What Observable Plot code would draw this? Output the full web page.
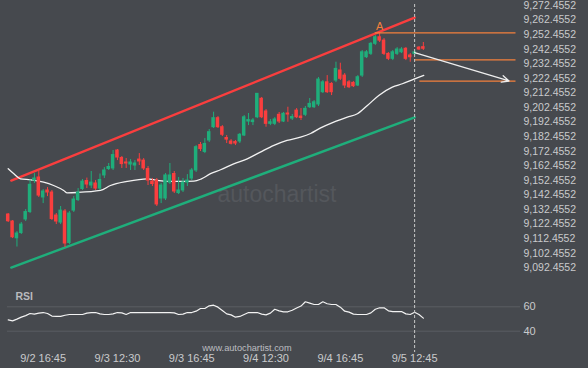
<!DOCTYPE html>
<html><head><meta charset="utf-8">
<script src="https://cdn.jsdelivr.net/npm/d3@7"></script>
<script src="https://cdn.jsdelivr.net/npm/@observablehq/plot@0.6"></script>
<style>
html,body{margin:0;padding:0;background:#46494e;}
#chart{width:588px;height:368px;overflow:hidden;background:#46494e;}
#chart svg{display:block;}
</style></head><body><div id="chart"></div>
<script>
// ---- data ----
const opens = [9129.0,9124.2,9112.7,9116.3,9125.6,9130.7,9152.3,9154.4,9140.7,9145.5,
9144.1,9128.3,9123.5,9131.1,9109.5,9131.7,9138.9,9146.5,9152.0,9148.9,
9150.3,9146.8,9155.8,9160.2,9160.6,9172.9,9167.8,9164.7,9163.3,9162.6,
9166.7,9166.0,9160.2,9151.6,9152.3,9140.0,9140.0,9150.9,9156.8,9143.7,
9145.5,9150.9,9153.7,9159.2,9176.7,9171.9,9179.8,9188.9,9195.1,9188.9,
9181.5,9179.1,9178.7,9179.1,9183.2,9192.8,9192.4,9195.7,9208.4,9199.7,
9191.2,9191.2,9197.4,9192.8,9198.3,9194.8,9200.3,9196.2,9197.4,9202.6,
9202.6,9204.5,9212.9,9219.7,9218.6,9220.9,9227.8,9224.3,9219.7,9219.3,
9217.5,9224.3,9236.9,9239.2,9246.1,9250.6,9248.3,9239.2,9235.8,9239.2,
9240.3,9242.7,9238.1,9239.2,9243.5,9243.8];
const closes = [9124.4,9113.4,9116.0,9122.1,9130.7,9149.4,9153.7,9142.0,9144.8,9144.1,
9125.9,9124.2,9131.7,9109.1,9129.7,9139.3,9144.1,9151.6,9149.6,9150.9,
9146.8,9152.7,9159.2,9161.6,9169.8,9168.1,9163.6,9164.0,9164.7,9164.0,
9165.4,9160.6,9152.3,9149.9,9135.9,9148.9,9155.8,9155.8,9144.8,9145.5,
9150.9,9152.3,9159.2,9175.2,9173.9,9177.4,9185.5,9195.1,9188.9,9183.7,
9180.4,9177.5,9177.7,9183.7,9195.7,9193.8,9193.5,9211.8,9195.7,9191.2,
9192.3,9194.2,9192.8,9198.1,9197.6,9195.9,9195.7,9195.2,9201.5,9204.9,
9206.0,9221.6,9219.7,9212.9,9212.9,9228.9,9222.1,9217.5,9216.3,9217.0,
9223.2,9240.3,9240.3,9246.1,9250.6,9248.3,9239.2,9235.8,9240.3,9242.2,
9242.2,9235.8,9236.9,9240.3,9242.2,9242.7];
const highs = [9129.7,9124.9,9117.3,9123.5,9132.4,9152.7,9157.1,9158.8,9146.1,9147.5,
9145.5,9129.7,9134.5,9132.4,9131.1,9141.3,9146.8,9153.0,9154.0,9158.5,
9152.3,9156.8,9161.2,9164.0,9172.9,9173.6,9168.8,9167.4,9166.7,9166.0,
9170.8,9167.4,9161.9,9153.7,9153.7,9150.3,9157.1,9164.0,9158.5,9154.4,
9153.7,9156.4,9160.6,9176.3,9178.4,9181.1,9187.3,9199.2,9196.2,9190.0,
9183.2,9180.4,9179.8,9184.6,9196.9,9198.3,9194.8,9212.0,9209.3,9201.0,
9194.2,9195.5,9199.0,9199.0,9202.6,9197.6,9201.7,9201.7,9203.1,9208.6,
9207.2,9223.0,9220.9,9224.3,9219.5,9233.5,9232.8,9225.7,9220.9,9220.2,
9224.3,9241.5,9241.5,9247.0,9251.8,9253.6,9249.7,9240.1,9241.5,9243.5,
9243.5,9243.5,9239.4,9241.5,9244.2,9247.0];
const lows = [9123.5,9112.5,9106.7,9115.3,9124.2,9129.7,9150.3,9140.7,9136.5,9141.3,
9124.9,9122.1,9122.1,9106.4,9108.4,9130.4,9137.9,9145.5,9146.8,9146.8,
9145.5,9145.5,9153.7,9159.2,9159.2,9166.0,9160.6,9160.6,9159.2,9159.2,
9162.6,9159.2,9148.9,9148.2,9134.5,9136.5,9138.6,9149.6,9143.4,9142.7,
9144.1,9148.2,9152.3,9157.8,9172.2,9170.8,9178.4,9188.0,9188.0,9182.5,
9177.7,9176.7,9176.3,9177.7,9182.5,9190.0,9190.0,9194.8,9194.8,9188.9,
9190.0,9190.0,9191.4,9192.1,9192.3,9193.5,9194.8,9193.5,9196.2,9201.7,
9201.7,9203.1,9212.0,9212.0,9210.6,9219.5,9220.9,9215.4,9215.4,9216.1,
9216.8,9223.0,9236.0,9238.1,9244.9,9247.0,9238.1,9234.6,9234.6,9238.1,
9239.4,9234.6,9233.5,9238.1,9241.5,9241.5];

// moving average (candle index, price)
const maIdx = [0,1.3,2.8,5.1,8.1,10.4,12.7,13.5,15.8,21.1,23.4,27.2,31.8,34.1,36.4,39.4,42.5,44.1,46.3,48.6,51.6,54.7,57.7,60.8,63.8,66.9,69.2,71.5,74.5,77.6,79.9,82.2,84.8,87.9,90.2,93,95.1];
const maVal = [9160.4,9156.9,9153.5,9152.8,9151.2,9148.9,9145.5,9143.9,9144.1,9145.5,9148.9,9151.7,9153.5,9152.4,9151.7,9151.7,9151.9,9153.3,9157.0,9159.7,9163.8,9167.2,9171.8,9176.4,9179.8,9182.1,9184.6,9188.4,9192.4,9195.8,9198.1,9203.8,9210.7,9216.4,9218.7,9222.1,9224.4];

const rsi = [49.3,48.5,49.9,51.5,52.8,54.5,54.0,54.8,55.3,54.5,
52.4,52.1,52.1,53.1,53.7,53.7,53.7,53.7,54.8,55.3,
55.3,54.2,53.7,53.7,54.2,55.3,55.0,53.7,55.3,55.3,
55.3,55.3,55.3,55.3,55.3,55.3,55.3,55.3,55.0,53.7,
54.0,55.3,55.3,56.4,58.6,58.6,60.8,61.3,59.7,57.0,
54.2,53.4,51.5,52.1,53.7,55.3,55.3,55.3,54.0,53.4,
54.8,58.0,56.7,55.9,55.9,57.2,59.0,60.6,64.1,63.0,
61.9,61.9,64.1,62.5,61.9,61.9,59.7,56.4,55.6,54.0,
53.7,53.7,53.7,55.0,58.0,59.2,59.2,56.7,56.1,56.1,
56.1,54.2,53.7,55.6,53.7,50.7];

// channel (start/end candle index, price)
const channelIdx = [0.7, 93];
const redChannel = [9152.3, 9264.1];
const greenChannel = [9092.6, 9195.7];

// pattern levels
const levelPrice = [9253.6, 9235.1, 9220.5];
const levelStart = [84, 93, 94.2];
const levelEnd = 116.2;
const forecastIdx = [93, 114.6];
const forecastPrice = [9240.0, 9220.6];
const pointLabel = {idx: 85, price: 9258.2, text: "A"};
const nowIdx = 93;

const priceTicks = [9092.4552,9102.4552,9112.4552,9122.4552,9132.4552,9142.4552,9152.4552,9162.4552,9172.4552,9182.4552,9192.4552,9202.4552,9212.4552,9222.4552,9232.4552,9242.4552,9252.4552,9262.4552,9272.4552];
const rsiTicks = [40, 60];
const timeIdx = [8, 25, 42, 59, 76, 93];
const timeLabels = ["9/2 16:45","9/3 12:30","9/3 16:45","9/4 12:30","9/4 16:45","9/5 12:45"];

// ---- style ----
const GREEN = "#1fae7b", RED = "#fa3e3e", ORANGE = "#f4803c", TXT = "#c9cacc";
const FONT = "'Liberation Sans', Arial, sans-serif";

const candles = opens.map((o, i) => ({i, open: o, close: closes[i], high: highs[i], low: lows[i]}));
const up = candles.filter(d => d.close >= d.open);
const down = candles.filter(d => d.close < d.open);
const ma = maIdx.map((x, k) => ({x, y: maVal[k]}));
const red = channelIdx.map((x, k) => ({x, y: redChannel[k]}));
const green = channelIdx.map((x, k) => ({x, y: greenChannel[k]}));
const levels = levelPrice.map((p, k) => ({p, s: levelStart[k], e: levelEnd}));
const rsiData = rsi.map((v, i) => ({i, v}));

const xScale = {type: "linear", domain: [0, 116.2], range: [7.7, 515.5], axis: null};

const main = Plot.plot({
  width: 588, height: 280, marginTop: 4, marginBottom: 0, marginLeft: 0, marginRight: 72,
  style: {background: "transparent", color: TXT, fontFamily: FONT, fontSize: "10.5px", overflow: "visible"},
  x: xScale,
  y: {domain: [9092.4552, 9272.4552], range: [267.3, 4.9], axis: null},
  marks: [
    Plot.text(["autochartist"], {frameAnchor: "top-left", dx: 217, dy: 181, textAnchor: "start", fontSize: 23, fill: "#54575c", letterSpacing: "0.6px"}),
    Plot.line(red, {x: "x", y: "y", stroke: RED, strokeWidth: 2.4}),
    Plot.line(green, {x: "x", y: "y", stroke: GREEN, strokeWidth: 2.4}),
    Plot.line(ma, {x: "x", y: "y", stroke: "#f2f2f2", strokeWidth: 1.3, curve: "monotone-x"}),
    Plot.ruleX(up, {x: "i", y1: "low", y2: "high", stroke: GREEN, strokeWidth: 1}),
    Plot.ruleX(down, {x: "i", y1: "low", y2: "high", stroke: RED, strokeWidth: 1}),
    Plot.rect(up, {x1: d => d.i - 0.4, x2: d => d.i + 0.4, y1: "open", y2: "close", fill: GREEN, insetTop: -0.5, insetBottom: -0.5}),
    Plot.rect(down, {x1: d => d.i - 0.4, x2: d => d.i + 0.4, y1: "open", y2: "close", fill: RED, insetTop: -0.5, insetBottom: -0.5}),
    Plot.ruleY(levels, {y: "p", x1: "s", x2: "e", stroke: ORANGE, strokeWidth: 1.3}),
    Plot.arrow([{x1: forecastIdx[0], y1: forecastPrice[0], x2: forecastIdx[1], y2: forecastPrice[1]}],
      {x1: "x1", y1: "y1", x2: "x2", y2: "y2", stroke: "#eeeeee", strokeWidth: 1.3, bend: 0, headLength: 9, headAngle: 50}),
    Plot.ruleX([nowIdx], {stroke: "#c8c8c8", strokeWidth: 1, strokeDasharray: "3,2"}),
    Plot.text([pointLabel], {x: "idx", y: "price", text: "text", fill: ORANGE, fontSize: 11}),
    Plot.axisY({anchor: "right", ticks: priceTicks, tickSize: 0, tickPadding: 7, tickFormat: d3.format(",.4f"), fill: TXT, label: null})
  ]
});

const lower = Plot.plot({
  width: 588, height: 88, marginTop: 0, marginBottom: 16, marginLeft: 7, marginRight: 68,
  style: {background: "transparent", color: TXT, fontFamily: FONT, fontSize: "11px", overflow: "visible"},
  x: xScale,
  y: {domain: [40, 60], range: [50.7, 26.3], axis: null},
  marks: [
    Plot.ruleY(rsiTicks, {stroke: "#5b5e63", strokeWidth: 1}),
    Plot.line(rsiData, {x: "i", y: "v", stroke: "#f2f2f2", strokeWidth: 1.2}),
    Plot.ruleX([nowIdx], {stroke: "#c8c8c8", strokeWidth: 1, strokeDasharray: "3,2"}),
    Plot.text(["RSI"], {frameAnchor: "top-left", dx: 8, dy: 11.7, textAnchor: "start", fontWeight: "bold", fontSize: 10.5, fill: "#b9babd"}),
    Plot.text(["www.autochartist.com"], {frameAnchor: "top-left", dx: 194.7, dy: 63.8, textAnchor: "start", fontSize: 9.2, fill: "#bdbec1", letterSpacing: "0.6px"}),
    Plot.axisY({anchor: "right", ticks: rsiTicks, tickSize: 0, tickPadding: 3, fill: TXT, label: null}),
    Plot.axisX({anchor: "bottom", ticks: timeIdx, tickSize: 0, tickPadding: 1.5, tickFormat: d => timeLabels[timeIdx.indexOf(d)], fill: TXT, label: null})
  ]
});

const root = document.getElementById("chart");
root.appendChild(main);
root.appendChild(lower);
</script></body></html>
